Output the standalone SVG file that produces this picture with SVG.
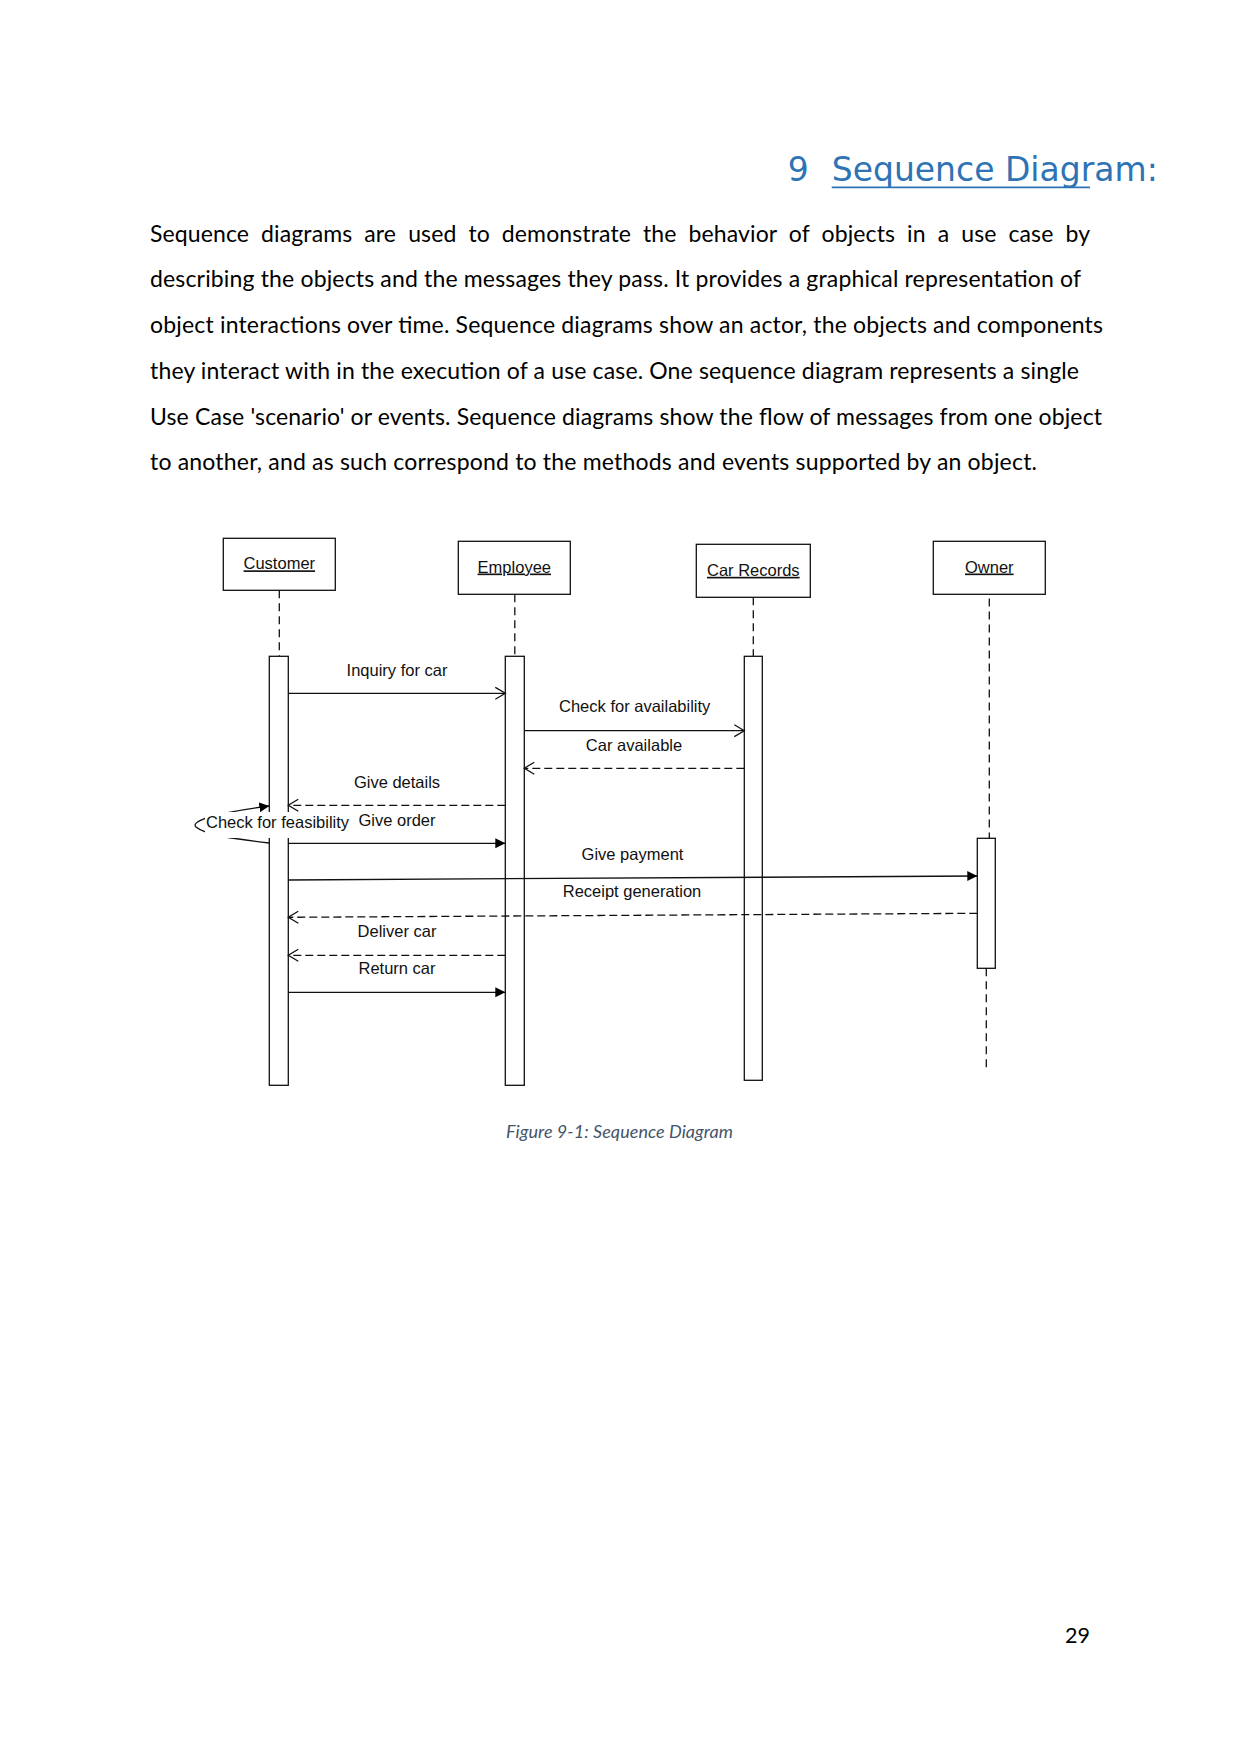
<svg xmlns="http://www.w3.org/2000/svg" width="1241" height="1754" viewBox="0 0 1241 1754">
<style>
.body{font-family:Lato,"Liberation Sans",sans-serif;font-size:23px;fill:#000}
.box{fill:#fff;stroke:#111;stroke-width:1.3}
.bar{fill:#fff;stroke:#111;stroke-width:1.3}
.life{stroke:#111;stroke-width:1.3;stroke-dasharray:8 5;fill:none}
.lbl{font-family:"Liberation Sans",Arial,sans-serif;font-size:16.5px;fill:#111;text-anchor:middle}
.name{font-family:"Liberation Sans",Arial,sans-serif;font-size:16.5px;fill:#111;text-anchor:middle;text-decoration:underline}
.msg{stroke:#111;stroke-width:1.3;fill:none}
.dash{stroke:#111;stroke-width:1.3;fill:none;stroke-dasharray:8 4}
</style>
<defs>
<marker id="open" markerUnits="userSpaceOnUse" markerWidth="12" markerHeight="14" refX="10.5" refY="7" orient="auto" viewBox="0 0 12 14"><path d="M0.5,1 L10.5,7 L0.5,13" fill="none" stroke="#111" stroke-width="1.3"/></marker>
<marker id="fill" markerUnits="userSpaceOnUse" markerWidth="11" markerHeight="12" refX="10" refY="6" orient="auto" viewBox="0 0 11 12"><path d="M0,1 L10,6 L0,11 z" fill="#000"/></marker>
</defs>
<rect width="1241" height="1754" fill="#fff"/>

<g id="heading">
<text x="787.7" y="180.5" font-family="'DejaVu Sans',sans-serif" font-size="33" fill="#2E74B5">9</text>
<text x="831.7" y="180.5" font-family="'DejaVu Sans',sans-serif" font-size="33" fill="#2E74B5">Sequence Diagram:</text>
<line x1="831.7" y1="187.3" x2="1090" y2="187.3" stroke="#2E74B5" stroke-width="1.8"/>
</g>

<g id="paragraph">
<text class="body" x="150" y="241.7" word-spacing="6" textLength="940" lengthAdjust="spacing">Sequence diagrams are used to demonstrate the behavior of objects in a use case by</text>
<text class="body" x="150" y="287.4" textLength="931" lengthAdjust="spacing">describing the objects and the messages they pass. It provides a graphical representation of</text>
<text class="body" x="150" y="333.1" textLength="953" lengthAdjust="spacing">object interactions over time. Sequence diagrams show an actor, the objects and components</text>
<text class="body" x="150" y="378.8" textLength="929" lengthAdjust="spacing">they interact with in the execution of a use case. One sequence diagram represents a single</text>
<text class="body" x="150" y="424.5" textLength="952" lengthAdjust="spacing">Use Case 'scenario' or events. Sequence diagrams show the flow of messages from one object</text>
<text class="body" x="150" y="470.2" textLength="887" lengthAdjust="spacing">to another, and as such correspond to the methods and events supported by an object.</text>
</g>

<g id="customer">
<rect class="box" x="223.3" y="538.3" width="112" height="52"/>
<text class="name" x="279.3" y="569.3">Customer</text>
<line class="life" x1="279.3" y1="590.3" x2="279.3" y2="656.3"/>
<rect class="bar" x="269.3" y="656.3" width="19" height="429"/>
</g>

<g id="employee">
<rect class="box" x="458.3" y="541.3" width="112" height="53"/>
<text class="name" x="514.3" y="572.5">Employee</text>
<line class="life" x1="514.8" y1="594.3" x2="514.8" y2="656.3"/>
<rect class="bar" x="505.3" y="656.3" width="19" height="429"/>
</g>

<g id="car-records">
<rect class="box" x="696.3" y="544.3" width="114" height="53"/>
<text class="name" x="753.3" y="575.8">Car Records</text>
<line class="life" x1="753.3" y1="597.3" x2="753.3" y2="656.3"/>
<rect class="bar" x="744.3" y="656.3" width="18" height="424"/>
</g>

<g id="owner">
<rect class="box" x="933.3" y="541.3" width="112" height="53"/>
<text class="name" x="989.3" y="572.5">Owner</text>
<line class="life" x1="989.3" y1="598.5" x2="989.3" y2="838.3"/>
<rect class="bar" x="977.3" y="838.3" width="18" height="130"/>
<line class="life" x1="986.3" y1="968.3" x2="986.3" y2="1068"/>
</g>

<g id="connectors">
<line class="msg" x1="288.3" y1="693.3" x2="505.3" y2="693.3" marker-end="url(#open)"/>
<text class="lbl" x="397" y="676">Inquiry for car</text>

<line class="msg" x1="524.3" y1="730.7" x2="744.3" y2="730.7" marker-end="url(#open)"/>
<text class="lbl" x="634.7" y="712">Check for availability</text>

<line class="dash" x1="744.3" y1="768.3" x2="524.3" y2="768.3" marker-end="url(#open)"/>
<text class="lbl" x="634" y="750.7">Car available</text>

<line class="dash" x1="505.3" y1="805.3" x2="288.3" y2="805.3" marker-end="url(#open)"/>
<text class="lbl" x="397" y="787.7">Give details</text>

<line class="msg" x1="288.3" y1="843.3" x2="505.3" y2="843.3" marker-end="url(#fill)"/>
<text class="lbl" x="397" y="826">Give order</text>

<line class="msg" x1="288.3" y1="880" x2="977.3" y2="876" marker-end="url(#fill)"/>
<text class="lbl" x="632.5" y="860">Give payment</text>

<line class="dash" x1="977.3" y1="913.3" x2="288.3" y2="917.3" marker-end="url(#open)"/>
<text class="lbl" x="632" y="896.7">Receipt generation</text>

<line class="dash" x1="505.3" y1="955.3" x2="288.3" y2="955.3" marker-end="url(#open)"/>
<text class="lbl" x="397" y="937.3">Deliver car</text>

<line class="msg" x1="288.3" y1="992.3" x2="505.3" y2="992.3" marker-end="url(#fill)"/>
<text class="lbl" x="397" y="974.3">Return car</text>

<path class="msg" d="M269.3,843 C235,839 205,835 196,827 C190,821 215,813 269.3,806" marker-end="url(#fill)"/>
<rect x="205" y="812" width="146" height="26" fill="#fff"/>
<text class="lbl" x="206" y="828" text-anchor="start" style="text-anchor:start">Check for feasibility</text>
</g>

<g id="caption">
<text x="506" y="1137.7" font-family="Lato,sans-serif" font-style="italic" font-size="18" fill="#44546A" textLength="227" lengthAdjust="spacing">Figure 9-1: Sequence Diagram</text>
</g>

<g id="page-number">
<text x="1090" y="1643" font-family="Lato,sans-serif" font-size="21.5" fill="#000" text-anchor="end">29</text>
</g>
</svg>
